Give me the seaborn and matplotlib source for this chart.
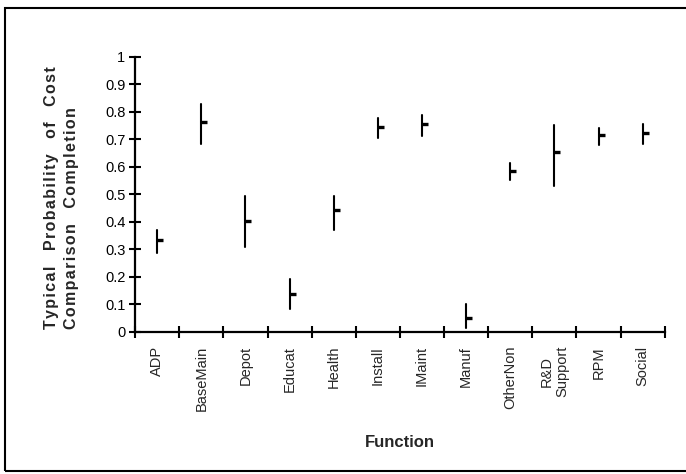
import numpy as np
import pandas as pd
import seaborn as sns
import matplotlib.pyplot as plt
from matplotlib.patches import Rectangle

sns.set_style('ticks')
plt.rcParams['font.family'] = ['Liberation Sans', 'DejaVu Sans']

# low / typical / high probability for each function
functions = ['ADP', 'BaseMain', 'Depot', 'Educat', 'Health', 'Install',
             'IMaint', 'Manuf', 'OtherNon', 'R&D\nSupport', 'RPM', 'Social']
low = [0.288, 0.682, 0.309, 0.085, 0.372, 0.705, 0.712, 0.016, 0.553, 0.532, 0.681, 0.685]
typical = [0.333, 0.765, 0.403, 0.137, 0.442, 0.745, 0.755, 0.050, 0.587, 0.655, 0.716, 0.723]
high = [0.372, 0.830, 0.494, 0.194, 0.496, 0.778, 0.788, 0.100, 0.616, 0.752, 0.743, 0.757]

yticks = [0, 0.1, 0.2, 0.3, 0.4, 0.5, 0.6, 0.7, 0.8, 0.9, 1]
ytick_labels = ['0', '0.1', '0.2', '0.3', '0.4', '0.5', '0.6', '0.7', '0.8', '0.9', '1']

df = pd.DataFrame({
    'Function': functions * 3,
    'value': low + typical + high,
})

fig = plt.figure(figsize=(6.86, 4.74), dpi=100)
ax = fig.add_axes([0.197, 0.2996, 0.772, 0.5804])

# median of (low, typical, high) is the typical value, 100% interval is the range
sns.pointplot(data=df, x='Function', y='value', order=functions,
              estimator='median', errorbar=('pi', 100),
              color='black', linestyle='none', marker=1,
              markersize=4.2, markeredgewidth=2.4,
              err_kws={'linewidth': 1.5}, ax=ax)

ax.set_xlim(-0.5, len(functions) - 0.5)
ax.set_ylim(0, 1)
ax.set_yticks(yticks)
ax.set_yticklabels(ytick_labels)

# ticks on category boundaries, labels at centres
ax.set_xticks(np.arange(-0.5, len(functions)), labels=[''] * (len(functions) + 1))
ax.set_xticks(range(len(functions)), labels=functions, minor=True)
ax.tick_params(axis='x', which='minor', length=0, pad=10, labelsize=10.5, rotation=90)
ax.tick_params(axis='both', which='major', direction='inout', length=8, width=1.5,
               color='black', labelcolor='black')
ax.tick_params(axis='y', labelsize=10.5, pad=3)
for lab in ax.get_xticklabels(minor=True):
    lab.set_va('top')
    lab.set_ha('center')

sns.despine(ax=ax)
for s in ['left', 'bottom']:
    ax.spines[s].set_linewidth(1.6)
    ax.spines[s].set_color('black')

ax.set_ylabel('')
ax.set_xlabel('Function', fontsize=12, fontweight='bold')
ax.xaxis.set_label_coords(0.5, -0.375)


def spaced(word):
    return '\u200a'.join(word)


line1 = '\u2009  \u2009'.join(spaced(w) for w in ['Typical', 'Probability', 'of', 'Cost'])
line2 = '\u2009  \u2009'.join(spaced(w) for w in ['Comparison', 'Completion'])
fig.text(0.0897, 0.584, line1 + '\n' + line2, rotation=90, ha='center', va='center',
         multialignment='left', fontsize=11.5, fontweight='bold', linespacing=1.4)

fig.patches.append(Rectangle((0.0073, 0.0063), 1.1, 0.977, transform=fig.transFigure,
                             fill=False, edgecolor='black', linewidth=1.5))

fig.savefig('out.png', dpi=100)
